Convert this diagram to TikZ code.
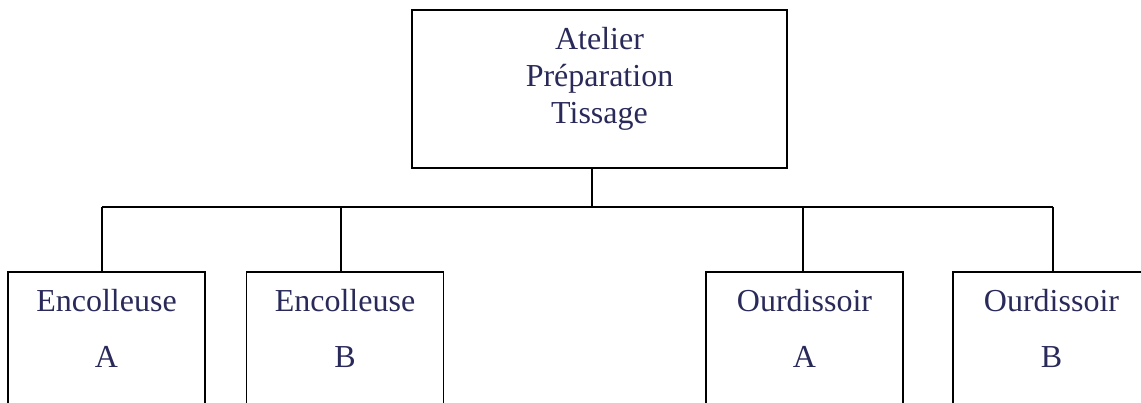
\documentclass[tikz,border=0pt]{standalone}
\usepackage{fontspec}
\setmainfont{Liberation Serif}
\definecolor{txt}{RGB}{42,42,90}
\begin{document}
\begin{tikzpicture}[x=1pt,y=-1pt,
  box/.style={draw=black, line width=1.6pt, inner sep=0pt},
  topbox/.style={box, minimum width=375pt, minimum height=158pt},
  subbox/.style={box, minimum width=197pt, minimum height=180pt},
  lbl/.style={text=txt, font=\fontsize{32}{37}\selectfont, anchor=base, inner sep=0pt},
  conn/.style={draw=black, line width=1.6pt}]
\useasboundingbox (0,0) rectangle (1141,403);
\clip (0,0) rectangle (1141,403);
% boxes
\node[topbox] (top) at (599.5,89) {};
\node[subbox] (e1) at (106.5,362) {};
\node[subbox] (e2) at (345,362) {};
\node[subbox] (o1) at (804.5,362) {};
\node[subbox] (o2) at (1051.5,362) {};
% labels
\node[lbl] (t1) at (599.5,50) {Atelier};
\node[lbl] (t2) at (599.5,87) {Préparation};
\node[lbl] (t3) at (599.5,124) {Tissage};
\node[lbl] (e1a) at (106.5,312) {Encolleuse};
\node[lbl] (e1b) at (106.5,368) {A};
\node[lbl] (e2a) at (345,312) {Encolleuse};
\node[lbl] (e2b) at (345,368) {B};
\node[lbl] (o1a) at (804.5,312) {Ourdissoir};
\node[lbl] (o1b) at (804.5,368) {A};
\node[lbl] (o2a) at (1051.5,312) {Ourdissoir};
\node[lbl] (o2b) at (1051.5,368) {B};
% bus
\coordinate (b0) at (592,207);
\coordinate (b1) at (102,207);
\coordinate (b2) at (341,207);
\coordinate (b3) at (803,207);
\coordinate (b4) at (1053,207);
\draw[conn] (top.south -| b0) -- (b0);
\draw[conn] (b1) -- (b4);
\draw[conn] (b1) -- (b1 |- e1.north);
\draw[conn] (b2) -- (b2 |- e2.north);
\draw[conn] (b3) -- (b3 |- o1.north);
\draw[conn] (b4) -- (b4 |- o2.north);
\end{tikzpicture}
\end{document}
